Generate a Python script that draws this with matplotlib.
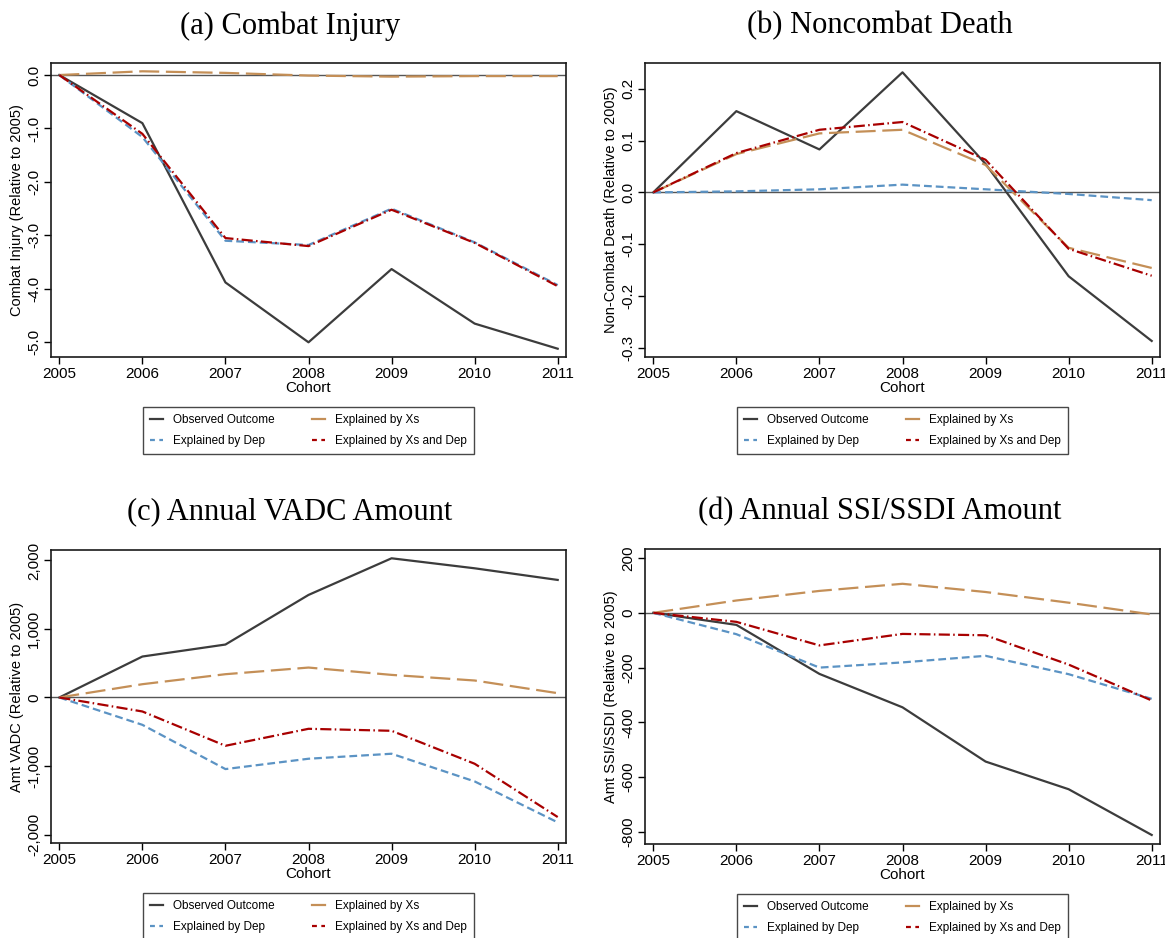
import numpy as np
import matplotlib
matplotlib.use("Agg")
import matplotlib.pyplot as plt
from matplotlib.ticker import FuncFormatter
from matplotlib.lines import Line2D

plt.rcParams['font.family'] = ['Liberation Sans', 'DejaVu Sans']

years = [2005, 2006, 2007, 2008, 2009, 2010, 2011]

# (a) combat injury
a_obs = [0, -0.90, -3.88, -5.00, -3.63, -4.65, -5.12]
a_xs = [0, 0.07, 0.04, -0.01, -0.03, -0.02, -0.02]
a_dep = [0, -1.16, -3.10, -3.18, -2.50, -3.13, -3.93]
a_both = [0, -1.10, -3.05, -3.20, -2.52, -3.14, -3.95]

# (b) noncombat death
b_obs = [0, 0.157, 0.083, 0.232, 0.055, -0.162, -0.287]
b_xs = [0, 0.074, 0.114, 0.121, 0.053, -0.107, -0.146]
b_dep = [0, 0.002, 0.006, 0.015, 0.006, -0.003, -0.015]
b_both = [0, 0.076, 0.121, 0.136, 0.063, -0.109, -0.161]

# (c) VADC amount
c_obs = [0, 598, 773, 1497, 2032, 1886, 1716]
c_xs = [0, 194, 340, 437, 330, 248, 63]
c_dep = [0, -399, -1045, -894, -821, -1225, -1823]
c_both = [0, -204, -705, -457, -486, -967, -1745]

# (d) SSI/SSDI amount
d_obs = [0, -44, -223, -345, -543, -644, -811]
d_xs = [0, 45, 80, 106, 76, 37, -6]
d_dep = [0, -78, -200, -181, -157, -224, -314]
d_both = [0, -33, -119, -77, -82, -189, -320]

titles = ["(a) Combat Injury", "(b) Noncombat Death",
          "(c) Annual VADC Amount", "(d) Annual SSI/SSDI Amount"]
ylabels = ["Combat Injury (Relative to 2005)", "Non-Combat Death (Relative to 2005)",
           "Amt VADC (Relative to 2005)", "Amt SSI/SSDI (Relative to 2005)"]
yticks = [[0.0, -1.0, -2.0, -3.0, -4.0, -5.0],
          [-0.3, -0.2, -0.1, 0.0, 0.1, 0.2],
          [-2000, -1000, 0, 1000, 2000],
          [-800, -600, -400, -200, 0, 200]]
ylims = [(-5.275, 0.225), (-0.318, 0.25), (-2124, 2153), (-844, 233)]
fmts = [lambda v, p: "%.1f" % v,
        lambda v, p: "%.1f" % v,
        lambda v, p: "{:,.0f}".format(v),
        lambda v, p: "%d" % v]

series = [(a_obs, a_xs, a_dep, a_both), (b_obs, b_xs, b_dep, b_both),
          (c_obs, c_xs, c_dep, c_both), (d_obs, d_xs, d_dep, d_both)]

fig = plt.figure(figsize=(11.65, 9.38), dpi=100)

W, H = 1165.0, 938.0
# axes boxes in pixels: left, top, right, bottom
boxes = [(51, 63, 566, 357), (645, 63, 1160, 357),
         (51, 550, 566, 843), (645, 549, 1160, 844)]
title_pos = [(290, 26), (880, 26), (290, 512), (880, 512)]

c_obs_col = '#3c3c3c'
c_xs_col = '#c48f57'
c_dep_col = '#5b93c4'
c_both_col = '#a80000'

# legend keys (short dashes like the original)
leg_handles = [Line2D([], [], color=c_obs_col, lw=1.6),
               Line2D([], [], color=c_dep_col, lw=1.6, dashes=(2.2, 2.0)),
               Line2D([], [], color=c_xs_col, lw=1.6),
               Line2D([], [], color=c_both_col, lw=1.6, dashes=(2.2, 2.0))]
leg_labels = ['Observed Outcome', 'Explained by Dep', 'Explained by Xs', 'Explained by Xs and Dep']

for i in range(4):
    l, t, r, b = boxes[i]
    ax = fig.add_axes([l / W, 1 - b / H, (r - l) / W, (b - t) / H])
    obs, xs, dep, both = series[i]

    ax.axhline(0, color='#555555', lw=1.0, zorder=1)
    ax.plot(years, obs, color=c_obs_col, lw=1.6)
    ax.plot(years, xs, color=c_xs_col, lw=1.6, dashes=(9, 3))
    ax.plot(years, dep, color=c_dep_col, lw=1.6, dashes=(3.5, 1.8))
    ax.plot(years, both, color=c_both_col, lw=1.6, dashes=(5, 1.5, 0.7, 1.5))

    ax.set_xlim(2004.9, 2011.1)
    ax.set_ylim(*ylims[i])
    ax.set_xticks(years)
    ax.set_yticks(yticks[i])
    ax.yaxis.set_major_formatter(FuncFormatter(fmts[i]))
    for lab in ax.get_yticklabels():
        lab.set_rotation(90)
        lab.set_va('center')
    ax.tick_params(axis='both', labelsize=11, length=5, width=1, direction='out', pad=2)
    for sp in ax.spines.values():
        sp.set_linewidth(1.2)
        sp.set_color('#1a1a1a')

    ax.set_xlabel("Cohort", fontsize=11, labelpad=0)
    ax.set_ylabel(ylabels[i], fontsize=10.5, labelpad=2)

    tx, ty = title_pos[i]
    fig.text(tx / W, 1 - ty / H, titles[i], ha='center', va='center',
             family=['Liberation Serif', 'DejaVu Serif'], fontsize=22)

    leg = ax.legend(leg_handles, leg_labels,
                    loc='upper center', bbox_to_anchor=(0.5, -0.15), ncol=2,
                    fontsize=8.5, frameon=True, fancybox=False, edgecolor='#1a1a1a',
                    handlelength=1.1, handletextpad=0.8, columnspacing=3.2,
                    borderpad=0.6, labelspacing=0.75)
    leg.get_frame().set_linewidth(1.0)

fig.savefig("out.png", dpi=100)
